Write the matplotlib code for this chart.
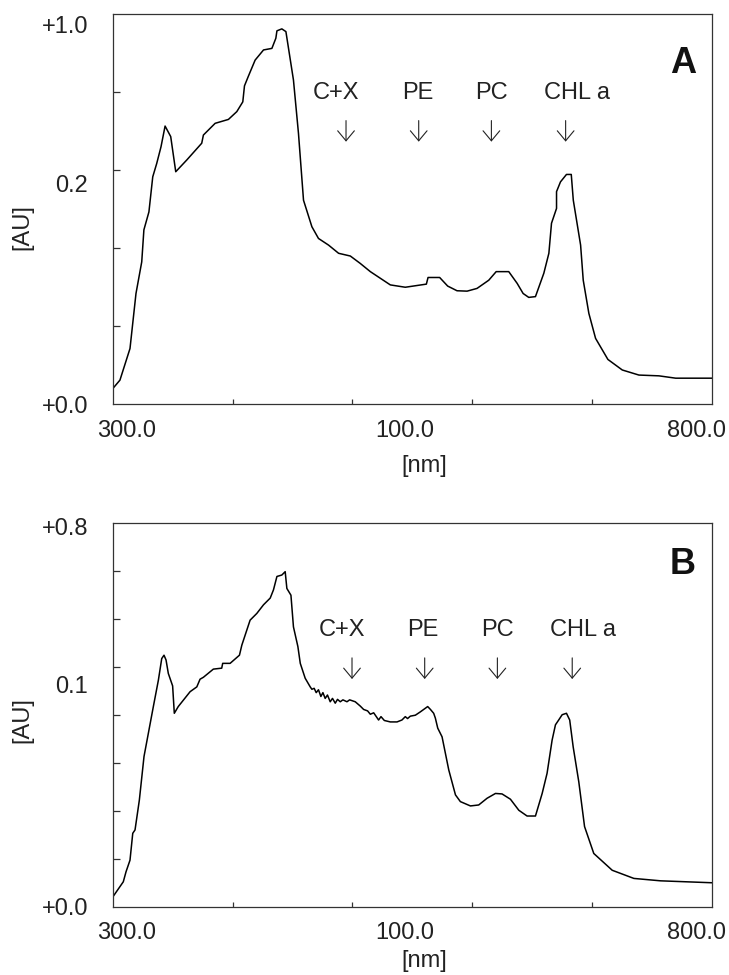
import matplotlib
matplotlib.use("Agg")
import matplotlib.pyplot as plt
from matplotlib.ticker import FixedLocator, FixedFormatter

plt.rcParams['font.family'] = ['Liberation Sans', 'DejaVu Sans']

# panel A spectrum
a_nm = [300, 305.8, 314.2, 319.2, 324, 325.8, 330, 333.2, 336.5, 340.1, 343.5, 348.2, 352.4,
        361.6, 374.1, 375.5, 385.3, 396.4, 403.4, 408.4, 409.8, 413.1, 418.7, 425.7, 432.7,
        436, 436.9, 441, 444.4, 450.7, 454.9, 459.1, 466.1, 471.6, 480, 488.4, 498.2, 506.5,
        514.9, 531.6, 544.1, 561.7, 563.1, 572.8, 579.5, 587.3, 595.7, 604, 613.8, 620, 630.5,
        637.5, 642.5, 647.2, 652.8, 659.8, 664, 666.2, 670.4, 670.4, 673.7, 678.7, 682.7,
        684.4, 690.5, 692.7, 697.4, 703, 713.3, 725.3, 739.2, 755.9, 769.9, 800]
a_abs = [0.041, 0.062, 0.143, 0.284, 0.365, 0.447, 0.493, 0.583, 0.617, 0.66, 0.713, 0.686,
         0.596, 0.626, 0.669, 0.69, 0.72, 0.73, 0.75, 0.775, 0.816, 0.841, 0.882, 0.908, 0.912,
         0.938, 0.957, 0.962, 0.955, 0.831, 0.694, 0.523, 0.455, 0.425, 0.408, 0.387, 0.38,
         0.361, 0.34, 0.306, 0.30, 0.308, 0.325, 0.325, 0.303, 0.291, 0.29, 0.297, 0.318, 0.34,
         0.34, 0.31, 0.284, 0.274, 0.276, 0.336, 0.387, 0.464, 0.502, 0.545, 0.57, 0.589, 0.589,
         0.523, 0.408, 0.318, 0.233, 0.169, 0.115, 0.088, 0.075, 0.073, 0.067, 0.067]

# panel B spectrum
b_nm = [300, 308.6, 310.9, 314.2, 316.5, 318.4, 322, 325.9, 329.5, 333.7,
        337.9, 340.7, 342.6, 344.3, 346.2, 349.8, 351.2, 354.5, 364.4, 370,
        372.7, 375.5, 383.8, 390.8, 391.6, 397.8, 405.6, 407.6, 414.5, 420.1,
        425.7, 431.3, 434, 436.9, 441, 443.8, 445.2, 448.6, 450.7, 454.4,
        456.4, 460.5, 464.7, 466.1, 468, 469.7, 471.6, 473.6, 475.3, 477.2,
        479.1, 481.4, 483.3, 485.6, 487.5, 489.8, 492, 495.4, 497.6, 502.3,
        506.5, 509.3, 512.6, 514.9, 517.7, 519.9, 521.8, 523.8, 526.6, 531.6,
        537.2, 541.3, 544.1, 546, 548.3, 552.5, 556.7, 562.8, 565.1, 567.8,
        569.2, 571.2, 574.8, 580.4, 586, 590.1, 598.5, 605.4, 612.4, 619.4,
        624.9, 631.9, 638.9, 645.8, 652.8, 658.4, 662.5, 666.7, 669.5, 672.2,
        675.1, 678.7, 681.4, 684.3, 689, 693.8, 701.5, 716.9, 735, 757.3, 800]
b_abs = [0.021, 0.052, 0.073, 0.097, 0.153, 0.16, 0.222, 0.313, 0.361, 0.417,
         0.472, 0.517, 0.524, 0.514, 0.486, 0.46, 0.403, 0.417, 0.448, 0.458,
         0.474, 0.478, 0.495, 0.497, 0.507, 0.507, 0.524, 0.545, 0.597, 0.611,
         0.629, 0.643, 0.66, 0.688, 0.691, 0.698, 0.663, 0.649, 0.583, 0.542,
         0.507, 0.476, 0.458, 0.453, 0.455, 0.446, 0.452, 0.438, 0.446, 0.434,
         0.441, 0.427, 0.434, 0.424, 0.432, 0.427, 0.431, 0.427, 0.431, 0.427,
         0.418, 0.411, 0.408, 0.401, 0.404, 0.396, 0.389, 0.396, 0.388, 0.385,
         0.385, 0.389, 0.396, 0.392, 0.397, 0.399, 0.406, 0.417, 0.411, 0.403,
         0.393, 0.372, 0.354, 0.285, 0.233, 0.219, 0.21, 0.212, 0.226, 0.236,
         0.235, 0.224, 0.201, 0.189, 0.189, 0.236, 0.278, 0.347, 0.379, 0.389,
         0.4, 0.403, 0.389, 0.333, 0.26, 0.167, 0.111, 0.076, 0.059, 0.054, 0.05]

band_names = ["C+X", "PE", "PC", "CHL a"]
a_bands = [494.6, 555.3, 616, 678]
b_bands = [499.6, 560.3, 621, 683.5]
band_text_shift = [-7, -1, 0, 8]   # points, label vs arrow

x_tick_pos = [311, 544, 787]
x_tick_labels = ["300.0", "100.0", "800.0"]
x_minor = [400, 500, 600, 700]

a_ylim = 1.0
a_ytick_pos = [0.0, 0.567, 0.974]
a_ytick_labels = ["+0.0", "0.2", "+1.0"]
a_yminor = [0.2, 0.4, 0.6, 0.8]

b_ylim = 0.8
b_ytick_pos = [0.0, 0.462, 0.793]
b_ytick_labels = ["+0.0", "0.1", "+0.8"]
b_yminor = [0.1, 0.2, 0.3, 0.4, 0.5, 0.6, 0.7]

fig = plt.figure(figsize=(7.29, 9.75), dpi=100)
axA = fig.add_axes([0.155, 0.5853, 0.8213, 0.4003])
axB = fig.add_axes([0.155, 0.0700, 0.8213, 0.3939])


def draw_panel(ax, nm, ab, ymax, ypos, ylabs, yminor, bands, letter,
               arrow_top, arrow_tip, label_y, letter_y, ylab_y, xlab_y):
    ax.plot(nm, ab, color='black', lw=1.1)
    ax.set_xlim(300, 800)
    ax.set_ylim(0, ymax)
    for s in ax.spines.values():
        s.set_color('#333333')
        s.set_linewidth(0.9)

    ax.xaxis.set_major_locator(FixedLocator(x_tick_pos))
    ax.xaxis.set_major_formatter(FixedFormatter(x_tick_labels))
    ax.xaxis.set_minor_locator(FixedLocator(x_minor))
    ax.yaxis.set_major_locator(FixedLocator(ypos))
    ax.yaxis.set_major_formatter(FixedFormatter(ylabs))
    ax.yaxis.set_minor_locator(FixedLocator(yminor))
    ax.tick_params(axis='x', which='major', length=0, pad=11, labelsize=17, colors='#222222')
    ax.tick_params(axis='y', which='major', length=0, pad=18, labelsize=17, colors='#222222')
    ax.tick_params(axis='x', which='minor', direction='in', length=3.5, width=0.9, color='#333333')
    ax.tick_params(axis='y', which='minor', direction='in', length=5, width=0.9, color='#333333')

    ax.set_ylabel("[AU]", fontsize=17, color='#222222')
    ax.yaxis.set_label_coords(-0.133, ylab_y)
    ax.set_xlabel("[nm]", fontsize=17, color='#222222')
    ax.xaxis.set_label_coords(0.52, xlab_y)

    tr = ax.get_xaxis_transform()
    for name, x, dx in zip(band_names, bands, band_text_shift):
        ax.annotate('', xy=(x, arrow_tip), xytext=(x, arrow_top), xycoords=tr, textcoords=tr,
                    arrowprops=dict(arrowstyle='->,head_width=0.3,head_length=0.36',
                                    lw=0.8, color='#222222', mutation_scale=20,
                                    shrinkA=0, shrinkB=0))
        ax.annotate(name, xy=(x, label_y), xycoords=tr, xytext=(dx, 0),
                    textcoords='offset points', ha='center', va='center',
                    fontsize=17, color='#222222')

    ax.text(0.952, letter_y, letter, transform=ax.transAxes, ha='center', va='center',
            fontsize=26, fontweight='bold', color='#111111')


draw_panel(axA, a_nm, a_abs, a_ylim, a_ytick_pos, a_ytick_labels, a_yminor, a_bands, "A",
           0.727, 0.673, 0.798, 0.874, 0.454, -0.13)
draw_panel(axB, b_nm, b_abs, b_ylim, b_ytick_pos, b_ytick_labels, b_yminor, b_bands, "B",
           0.648, 0.593, 0.721, 0.890, 0.486, -0.113)

fig.savefig("out.png", dpi=100)
